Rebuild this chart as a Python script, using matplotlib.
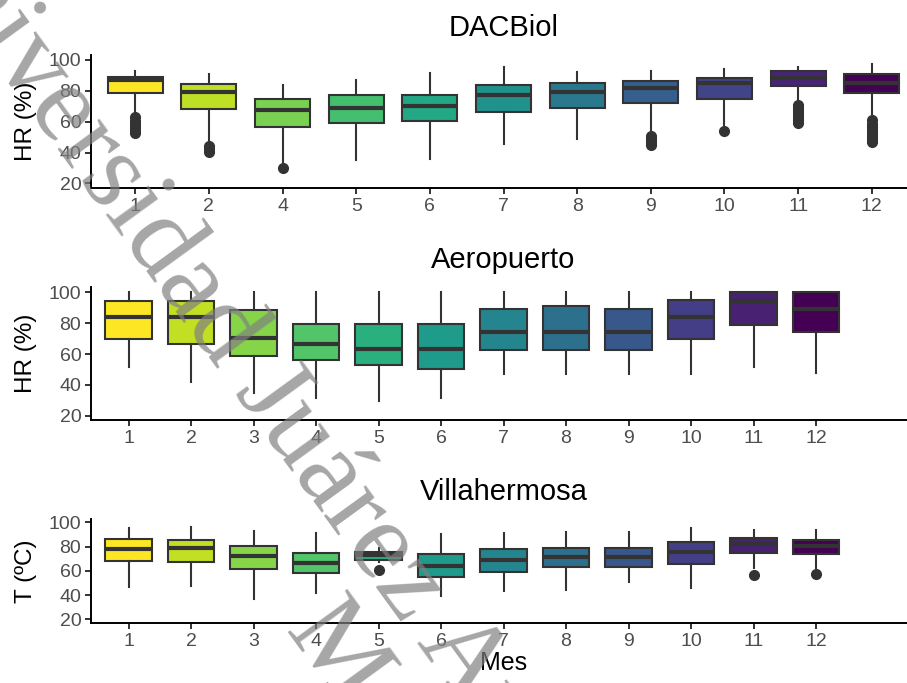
import matplotlib.pyplot as plt
from matplotlib import cm
import numpy as np

plt.rcParams['font.family'] = ['Liberation Sans', 'DejaVu Sans']

box_edge = "#333333"
tick_grey = "#4D4D4D"

# DACBiol, HR (%)
dac_months = [1, 2, 4, 5, 6, 7, 8, 9, 10, 11, 12]
dac_q1 = [78.8, 68.0, 56.3, 58.9, 60.4, 66.5, 69.1, 71.9, 74.5, 83.4, 78.8]
dac_med = [87.0, 79.0, 67.6, 69.1, 70.4, 77.3, 79.0, 82.1, 84.9, 88.5, 85.3]
dac_q3 = [89.2, 84.4, 74.5, 77.3, 77.3, 83.8, 85.3, 86.4, 88.5, 92.9, 90.7]
dac_lo = [66.5, 47.0, 33.0, 35.1, 35.6, 45.3, 48.5, 54.0, 57.8, 74.0, 64.3]
dac_hi = [92.9, 90.7, 83.8, 87.0, 91.4, 95.2, 92.0, 92.9, 94.2, 95.7, 97.4]
dac_out = [[52.5, 54.5, 56.5, 58.5, 60.5, 63.0], [40.5, 42.0, 44.0], [29.7], [], [], [],
           [], [45.0, 47.0, 49.0, 50.5], [54.0], [59.0, 61.0, 63.0, 65.0, 67.0, 69.0, 71.0],
           [46.5, 48.5, 50.5, 52.5, 54.5, 56.5, 58.5, 61.0]]

# Aeropuerto, HR (%)
aer_months = [1, 2, 3, 4, 5, 6, 7, 8, 9, 10, 11, 12]
aer_q1 = [69.9, 66.6, 59.0, 56.2, 53.0, 50.1, 62.7, 62.7, 62.3, 69.9, 79.0, 74.2]
aer_med = [84.0, 84.0, 70.7, 66.6, 63.1, 63.1, 74.6, 74.6, 74.6, 84.0, 94.6, 89.2]
aer_q3 = [94.4, 94.4, 88.7, 79.6, 79.6, 79.6, 89.2, 90.9, 89.2, 94.8, 100.0, 100.0]
aer_lo = [51.9, 41.7, 35.0, 31.3, 29.5, 31.7, 47.1, 47.1, 47.1, 47.1, 51.9, 48.0]
aer_hi = [100.0, 100.0, 100.0, 100.0, 100.0, 100.0, 100.0, 100.0, 100.0, 100.0, 100.0, 100.0]
aer_out = [[], [], [], [], [], [], [], [], [], [], [], []]

# Villahermosa, T (ºC)
vil_months = [1, 2, 3, 4, 5, 6, 7, 8, 9, 10, 11, 12]
vil_q1 = [68.4, 67.1, 61.2, 57.9, 69.0, 55.2, 59.3, 63.5, 63.5, 65.7, 74.5, 74.0]
vil_med = [78.1, 78.7, 72.6, 66.2, 73.1, 64.3, 69.0, 71.8, 71.8, 75.4, 82.3, 80.6]
vil_q3 = [86.4, 85.6, 80.9, 75.1, 75.4, 74.0, 77.9, 79.2, 78.7, 83.7, 87.0, 85.1]
vil_lo = [46.3, 47.7, 36.6, 41.3, 67.0, 39.4, 43.5, 44.1, 51.0, 45.5, 62.0, 62.0]
vil_hi = [95.3, 96.1, 92.5, 91.1, 78.7, 90.3, 91.1, 92.0, 92.0, 95.3, 93.4, 93.4]
vil_out = [[], [], [], [], [60.5], [], [], [], [], [], [56.5], [57.4]]

yticks = [20, 40, 60, 80, 100]


def draw_panel(ax, title, ylabel, months, q1, med, q3, lo, hi, out, xlim, ylim):
    n = len(months)
    colours = cm.viridis(np.linspace(0, 1, n))[::-1]
    stats = []
    for i in range(n):
        stats.append(dict(label=str(months[i]), q1=q1[i], med=med[i], q3=q3[i],
                          whislo=lo[i], whishi=hi[i], fliers=out[i]))
    pos = list(range(1, n + 1))
    parts = ax.bxp(stats, positions=pos, widths=0.75, patch_artist=True,
                   showcaps=False,
                   boxprops=dict(edgecolor=box_edge, linewidth=1.5),
                   medianprops=dict(color=box_edge, linewidth=3.0, solid_capstyle='butt'),
                   whiskerprops=dict(color=box_edge, linewidth=1.5),
                   flierprops=dict(marker='o', markersize=7, markerfacecolor=box_edge,
                                   markeredgecolor=box_edge))
    for patch, c in zip(parts['boxes'], colours):
        patch.set_facecolor(c)

    ax.set_xlim(*xlim)
    ax.set_ylim(*ylim)
    ax.set_yticks(yticks)
    ax.set_xticks(pos)
    ax.set_xticklabels([str(m) for m in months])
    ax.set_title(title, fontsize=21, pad=14)
    ax.set_ylabel(ylabel, fontsize=17.5)
    ax.yaxis.set_label_coords(-0.065, 0.5)
    for side in ['top', 'right']:
        ax.spines[side].set_visible(False)
    for side in ['left', 'bottom']:
        ax.spines[side].set_linewidth(1.4)
        ax.spines[side].set_color('black')
    ax.tick_params(axis='both', labelsize=14, labelcolor=tick_grey, color=box_edge,
                   length=4, width=1.4, pad=3)


W, H = 907, 683
fig = plt.figure(figsize=(W / 100, H / 100), dpi=100)

left = 91
right = 916


def add_ax(top, bottom):
    return fig.add_axes([left / W, 1 - bottom / H, (right - left) / W, (bottom - top) / H])


ax1 = add_ax(55, 188)
ax2 = add_ax(287, 420)
ax3 = add_ax(519, 623)

draw_panel(ax1, "DACBiol", "HR (%)", dac_months, dac_q1, dac_med, dac_q3, dac_lo, dac_hi,
           dac_out, (0.4, 11.6), (17.0, 103.2))
draw_panel(ax2, "Aeropuerto", "HR (%)", aer_months, aer_q1, aer_med, aer_q3, aer_lo, aer_hi,
           aer_out, (0.4, 13.6), (17.2, 103.5))
draw_panel(ax3, "Villahermosa", "T (ºC)", vil_months, vil_q1, vil_med, vil_q3, vil_lo, vil_hi,
           vil_out, (0.4, 13.6), (16.9, 102.8))
ax3.set_xlabel("Mes", fontsize=18, labelpad=1)

# watermark across the figure
fig.text(-0.117, 1.110, "Universidad Juárez Autónoma de Tabasco", rotation=-54,
         rotation_mode='anchor', ha='left', va='baseline', fontsize=81,
         family='Liberation Serif', color='grey', alpha=0.7, zorder=10)
fig.text(0.313, 0.076, "México", rotation=-54, rotation_mode='anchor', ha='left',
         va='baseline', fontsize=81, family='Liberation Serif', color='grey',
         alpha=0.7, zorder=10)

fig.savefig("out.png", dpi=100)
